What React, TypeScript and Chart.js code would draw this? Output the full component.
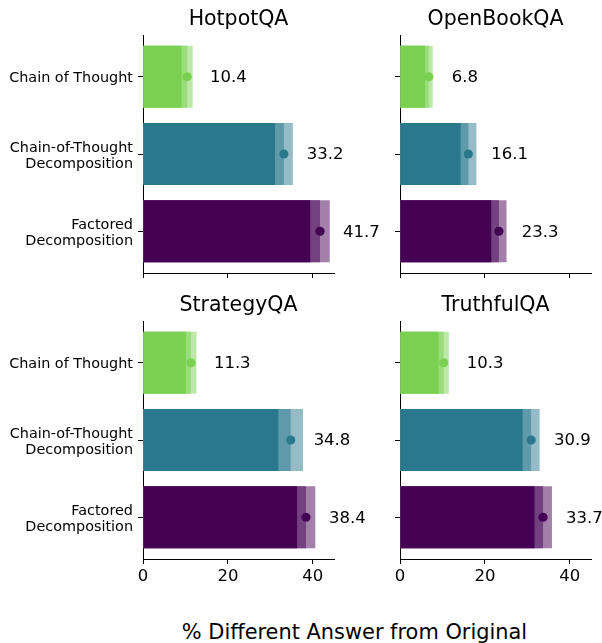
import React, { useEffect, useRef } from "react";
import { Chart, registerables } from "chart.js";

Chart.register(...registerables);

// ---------------- data ----------------
const categories = [
  "Chain of Thought",
  "Chain-of-Thought\nDecomposition",
  "Factored\nDecomposition",
];

const hotpotMean = [10.4, 33.2, 41.7];
const hotpotLow = [9.1, 31.1, 39.4];
const hotpotHigh = [11.7, 35.3, 44.0];

const openbookMean = [6.8, 16.1, 23.3];
const openbookLow = [5.9, 14.3, 21.5];
const openbookHigh = [7.7, 18.0, 25.1];

const strategyMean = [11.3, 34.8, 38.4];
const strategyLow = [10.1, 31.9, 36.3];
const strategyHigh = [12.6, 37.7, 40.6];

const truthfulMean = [10.3, 30.9, 33.7];
const truthfulLow = [9.1, 28.9, 31.7];
const truthfulHigh = [11.5, 32.9, 35.8];

const xTicks = [0, 20, 40];
const xLabel = "% Different Answer from Original";

// ---------------- styling ----------------
const FONT = "'DejaVu Sans', 'Liberation Sans', sans-serif";
const baseRGB: [number, number, number][] = [
  [122, 209, 81],
  [42, 120, 142],
  [68, 1, 84],
];
const blend = (c: [number, number, number], a: number) =>
  `rgb(${c.map((v) => Math.round(v * a + 255 * (1 - a))).join(",")})`;
const solid = baseRGB.map((c) => blend(c, 1));
const medium = baseRGB.map((c) => blend(c, 0.75));
const light = baseRGB.map((c) => blend(c, 0.5));

type PanelSpec = {
  title: string;
  mean: number[];
  low: number[];
  high: number[];
  left: number;
  top: number;
  width: number;
  yAxisWidth: number;
  padRight: number;
  showY: boolean;
  showX: boolean;
};

const CANVAS_H = 300;

const panels: PanelSpec[] = [
  { title: "HotpotQA", mean: hotpotMean, low: hotpotLow, high: hotpotHigh, left: 0, top: 0, width: 390, yAxisWidth: 143, padRight: 56, showY: true, showX: false },
  { title: "OpenBookQA", mean: openbookMean, low: openbookLow, high: openbookHigh, left: 340, top: 0, width: 262, yAxisWidth: 60, padRight: 11, showY: false, showX: false },
  { title: "StrategyQA", mean: strategyMean, low: strategyLow, high: strategyHigh, left: 0, top: 286, width: 390, yAxisWidth: 143, padRight: 56, showY: true, showX: true },
  { title: "TruthfulQA", mean: truthfulMean, low: truthfulLow, high: truthfulHigh, left: 340, top: 286, width: 262, yAxisWidth: 60, padRight: 11, showY: false, showX: true },
];

const valueLabelPlugin = {
  id: "valueLabels",
  afterDatasetsDraw(chart: any) {
    const { ctx, scales } = chart;
    const xs = scales.x;
    const ys = scales.y;
    const pts = chart.data.datasets[0].data as { x: number; y: number }[];
    ctx.save();
    ctx.font = `16.5px ${FONT}`;
    ctx.fillStyle = "#000";
    ctx.textAlign = "left";
    ctx.textBaseline = "middle";
    pts.forEach((p) => {
      ctx.fillText(p.x.toFixed(1), xs.getPixelForValue(p.x + 5.4), ys.getPixelForValue(p.y) + 1);
    });
    ctx.restore();
  },
};

function makeConfig(spec: PanelSpec): any {
  const pts = (vals: number[]) => vals.map((v, i) => ({ x: v, y: i }));
  return {
    type: "bar",
    data: {
      datasets: [
        {
          type: "scatter",
          data: pts(spec.mean),
          backgroundColor: solid,
          borderWidth: 0,
          pointRadius: 4.6,
          pointHoverRadius: 4.6,
          pointBorderWidth: 0,
        },
        { type: "bar", data: pts(spec.low), backgroundColor: solid, borderWidth: 0, grouped: false, categoryPercentage: 1, barPercentage: 0.8 },
        { type: "bar", data: pts(spec.mean), backgroundColor: medium, borderWidth: 0, grouped: false, categoryPercentage: 1, barPercentage: 0.8 },
        { type: "bar", data: pts(spec.high), backgroundColor: light, borderWidth: 0, grouped: false, categoryPercentage: 1, barPercentage: 0.8 },
      ],
    },
    options: {
      indexAxis: "y",
      responsive: false,
      animation: false,
      events: [],
      layout: { padding: { left: 0, right: spec.padRight, top: 0, bottom: 0 } },
      plugins: {
        legend: { display: false },
        tooltip: { enabled: false },
        title: {
          display: true,
          text: spec.title,
          fullSize: false,
          color: "#000",
          font: { family: FONT, size: 20.5, weight: "normal", lineHeight: 1.2 },
          padding: { top: 7.4, bottom: 3 },
        },
      },
      scales: {
        x: {
          type: "linear",
          min: 0,
          max: 45,
          offset: false,
          afterBuildTicks: (axis: any) => {
            axis.ticks = xTicks.map((v) => ({ value: v }));
          },
          afterFit: (axis: any) => {
            axis.height = 27;
          },
          ticks: {
            color: "#000",
            padding: 3,
            maxRotation: 0,
            autoSkip: false,
            font: { family: FONT, size: 16.5 },
            callback: (v: any) => (spec.showX ? String(v) : ""),
          },
          grid: {
            display: true,
            drawOnChartArea: false,
            drawTicks: true,
            tickLength: 5,
            tickColor: "#000",
            tickWidth: 1,
            color: "#000",
            offset: false,
          },
          border: { display: true, color: "#000", width: 1 },
        },
        y: {
          type: "linear",
          reverse: true,
          min: -0.54,
          max: 2.54,
          offset: false,
          afterBuildTicks: (axis: any) => {
            axis.ticks = categories.map((_, i) => ({ value: i }));
          },
          afterFit: (axis: any) => {
            axis.width = spec.yAxisWidth;
          },
          ticks: {
            color: "#000",
            padding: 5,
            labelOffset: 2,
            autoSkip: false,
            font: { family: FONT, size: 14.4, lineHeight: 1.1 },
            callback: (v: any) => {
              if (!spec.showY) return "";
              const lbl = categories[Math.round(v)];
              return lbl ? lbl.split("\n") : "";
            },
          },
          grid: {
            display: true,
            drawOnChartArea: false,
            drawTicks: true,
            tickLength: 5,
            tickColor: "#000",
            tickWidth: 1,
            color: "#000",
            offset: false,
          },
          border: { display: true, color: "#000", width: 1 },
        },
      },
    },
    plugins: [valueLabelPlugin],
  };
}

function Panel({ spec }: { spec: PanelSpec }) {
  const ref = useRef<HTMLCanvasElement>(null);
  useEffect(() => {
    const chart = new Chart(ref.current as HTMLCanvasElement, makeConfig(spec));
    return () => chart.destroy();
  }, [spec]);
  return (
    <canvas
      ref={ref}
      width={spec.width}
      height={CANVAS_H}
      style={{
        position: "absolute",
        left: spec.left,
        top: spec.top,
        width: spec.width,
        height: CANVAS_H,
        display: "block",
      }}
    />
  );
}

export default function App() {
  return (
    <div
      style={{
        position: "absolute",
        left: 0,
        top: 0,
        width: 602,
        height: 643,
        overflow: "hidden",
        background: "#fff",
      }}
    >
      {panels.map((p) => (
        <Panel key={p.title} spec={p} />
      ))}
      <div
        style={{
          position: "absolute",
          left: 154.5,
          width: 400,
          top: 622.4,
          textAlign: "center",
          fontFamily: FONT,
          fontSize: 20.9,
          lineHeight: "20.9px",
          color: "#000",
          whiteSpace: "nowrap",
        }}
      >
        {xLabel}
      </div>
    </div>
  );
}
